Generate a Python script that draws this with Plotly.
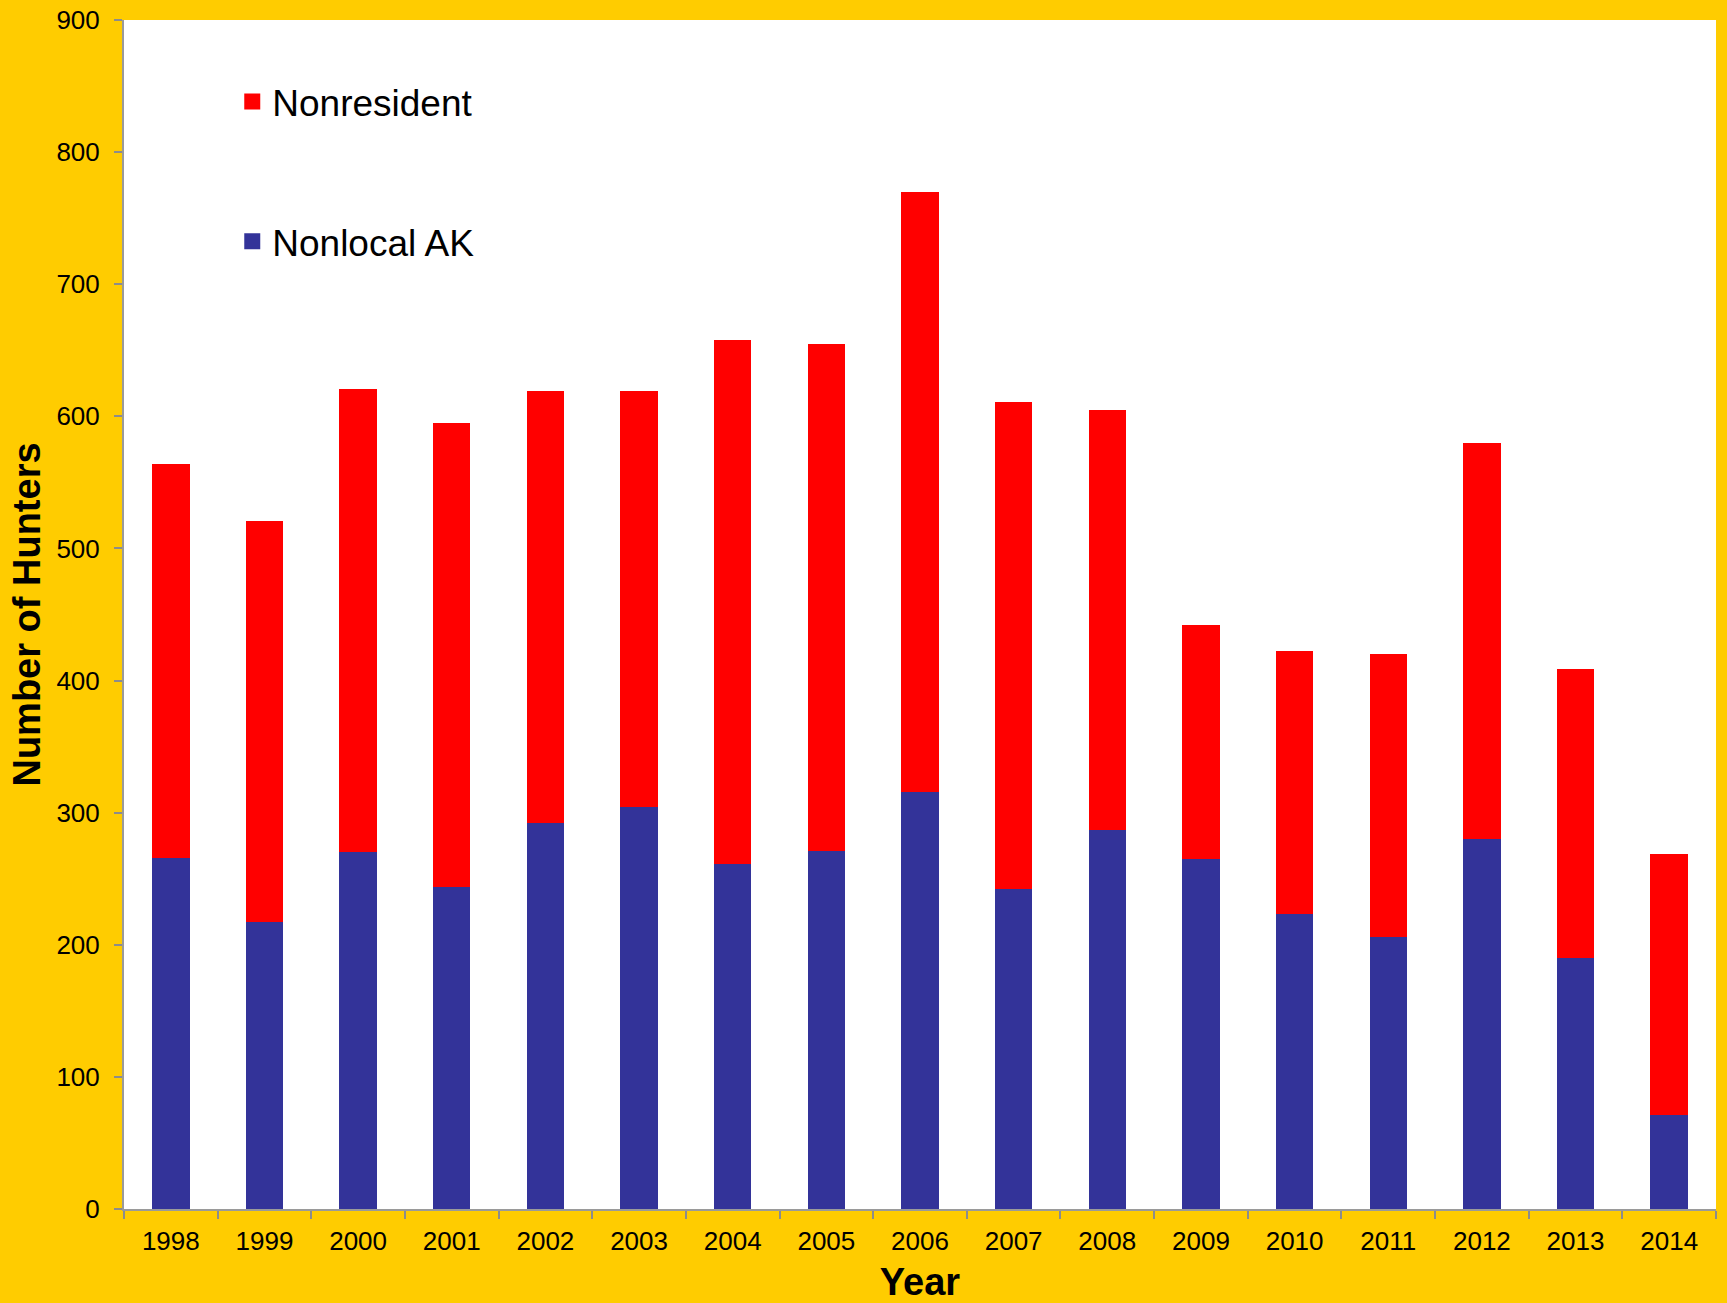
import plotly.graph_objects as go

years = ["1998", "1999", "2000", "2001", "2002", "2003", "2004", "2005", "2006",
         "2007", "2008", "2009", "2010", "2011", "2012", "2013", "2014"]
nonlocal_ak = [266, 217, 270, 244, 292, 304, 261, 271, 316, 242, 287, 265, 223, 206, 280, 190, 71]
nonresident = [298, 304, 351, 351, 327, 315, 397, 384, 454, 369, 318, 177, 199, 214, 300, 219, 198]
y_ticks = [0, 100, 200, 300, 400, 500, 600, 700, 800, 900]

RED = "#FF0000"
BLUE = "#333399"
GOLD = "#FFCC00"
FONT = "Liberation Sans, Arial, sans-serif"

fig = go.Figure()
fig.add_trace(go.Bar(x=years, y=nonlocal_ak, name="Nonlocal AK", marker_color=BLUE,
                     marker_line_width=0, showlegend=False))
fig.add_trace(go.Bar(x=years, y=nonresident, name="Nonresident", marker_color=RED,
                     marker_line_width=0, showlegend=False))
# legend entries
fig.add_trace(go.Scatter(x=[None], y=[None], mode="markers", name="Nonresident",
                         marker=dict(symbol="square", size=16, color=RED), legend="legend"))
fig.add_trace(go.Scatter(x=[None], y=[None], mode="markers", name="Nonlocal AK",
                         marker=dict(symbol="square", size=16, color=BLUE), legend="legend2"))

fig.update_layout(
    width=1727, height=1303,
    paper_bgcolor=GOLD, plot_bgcolor="white",
    margin=dict(l=124, r=11, t=20, b=94, autoexpand=False),
    barmode="stack", bargap=0.6,
    font=dict(family=FONT, color="black", size=26),
    legend=dict(x=0.068, y=0.931, xanchor="left", yanchor="middle",
                bgcolor="rgba(0,0,0,0)", font=dict(size=37, family=FONT)),
    legend2=dict(x=0.068, y=0.8135, xanchor="left", yanchor="middle",
                 bgcolor="rgba(0,0,0,0)", font=dict(size=37, family=FONT)),
    xaxis=dict(
        type="category", tickson="boundaries", ticks="outside", ticklen=8,
        tickcolor="#8C8C8C", tickwidth=2, showline=True, linecolor="#9A9A9A", linewidth=2,
        showgrid=False, tickfont=dict(size=26), ticklabelstandoff=8,
        title=dict(text="<b>Year</b>", font=dict(size=38), standoff=20),
        automargin=False,
    ),
    yaxis=dict(
        range=[0, 900], tickvals=y_ticks, ticks="outside", ticklen=8,
        tickcolor="#8C8C8C", tickwidth=2, showline=True, linecolor="#9A9A9A", linewidth=2,
        showgrid=False, zeroline=False, tickfont=dict(size=26), ticklabelstandoff=9,
        title=dict(text="<b>Number of Hunters</b>", font=dict(size=38), standoff=4),
        automargin=False,
    ),
)

fig.write_html(
    "out.html",
    config={"displayModeBar": False},
    post_script="document.body.style.margin='0';document.body.style.overflow='hidden';"
                "document.body.style.background='#FFCC00';",
)
